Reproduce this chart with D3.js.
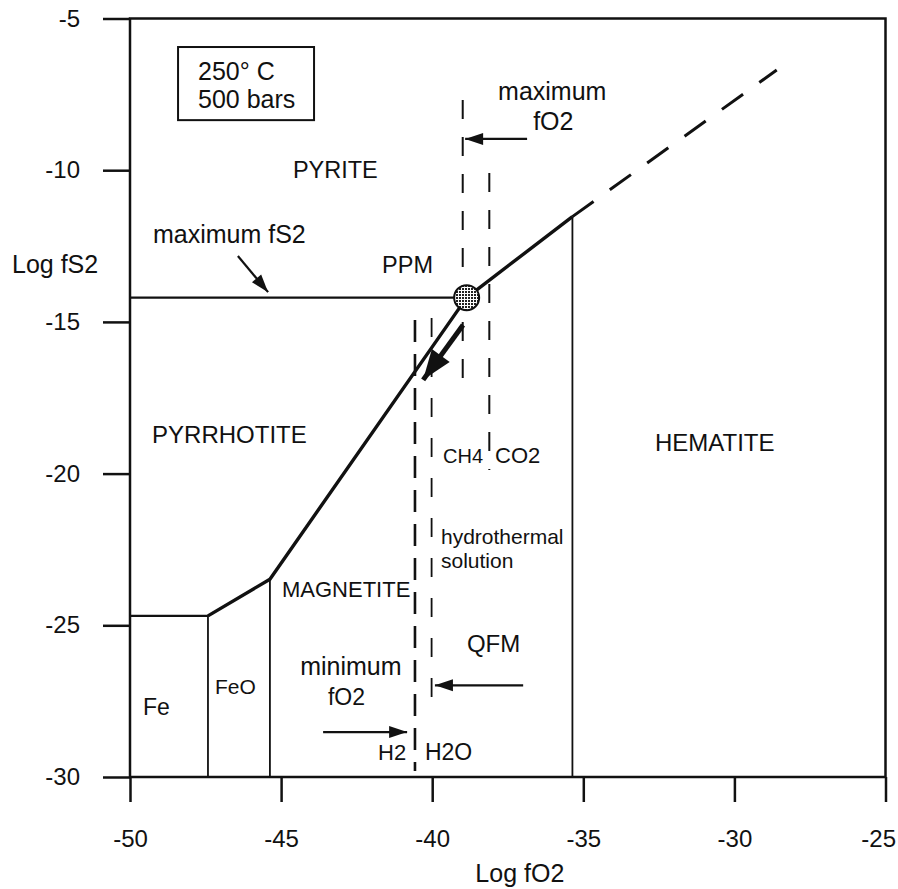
<!DOCTYPE html>
<html>
<head>
<meta charset="utf-8">
<script src="https://cdn.jsdelivr.net/npm/d3@7"></script>
<style>
  body { margin: 0; background: #fff; }
  svg text { font-family: "Liberation Sans", Arial, Helvetica, sans-serif; fill: #111; }
</style>
</head>
<body>
<div id="chart"></div>
<script>
// axis ticks
const xTicks = [-50, -45, -40, -35, -30, -25];
const yTicks = [-5, -10, -15, -20, -25, -30];

// stability field boundaries (log fO2, log fS2)
const feTop = [[-50, -24.69], [-47.42, -24.69]];
const mainBoundary = [[-47.42, -24.69], [-45.37, -23.48], [-38.86, -14.20], [-35.36, -11.53]];
const extrapolated = [[-35.36, -11.53], [-28.60, -6.70]];
const maxFS2 = [[-50, -14.20], [-38.86, -14.20]];
const ppm = [-38.86, -14.20];
const verticals = [
  { x: -47.42, y0: -30, y1: -24.69 },
  { x: -45.37, y0: -30, y1: -23.48 },
  { x: -35.36, y0: -30, y1: -11.53 }
];

// redox buffer lines (dashed)
const dashedLines = [
  { x: -40.57, y0: -14.94, y1: -29.8, dash: '22,12', w: 2.6 },   // H2 / H2O
  { x: -40.02, y0: -14.87, y1: -27.86, dash: '19,21', w: 1.8 },  // QFM
  { x: -38.99, y0: -7.69, y1: -17.18, dash: '19,18', w: 2 },     // CH4 / CO2
  { x: -38.11, y0: -10.09, y1: -19.88, dash: '19,18', w: 2 }
];

// annotation arrows [from, to]
const arrows = [
  [[-46.43, -12.83], [-45.43, -14.02]],
  [[-36.86, -8.97], [-38.91, -8.97]],
  [[-36.99, -26.98], [-39.91, -26.98]],
  [[-43.61, -28.52], [-40.83, -28.52]]
];
const pathArrow = [[-38.98, -15.10], [-40.30, -16.91]];

// text labels [text, x, y, size]
const labels = [
  ['250\u00b0 C', -47.75, -7.03, 25],
  ['500 bars', -47.75, -7.95, 25],
  ['PYRITE', -44.61, -10.26, 23.5],
  ['PPM', -41.66, -13.39, 23.5],
  ['maximum fS2', -49.24, -12.40, 25],
  ['PYRRHOTITE', -49.27, -18.99, 24],
  ['HEMATITE', -32.63, -19.25, 24],
  ['MAGNETITE', -44.97, -24.06, 22],
  ['Fe', -49.57, -27.95, 23],
  ['FeO', -47.19, -27.26, 21],
  ['minimum', -44.37, -26.64, 25],
  ['fO2', -43.45, -27.63, 23],
  ['H2', -41.79, -29.45, 22],
  ['H2O', -40.24, -29.45, 23],
  ['QFM', -38.85, -25.89, 24],
  ['hydrothermal', -39.71, -22.32, 21],
  ['solution', -39.71, -23.11, 21],
  ['CH4', -39.64, -19.65, 20],
  ['CO2', -37.92, -19.65, 22],
  ['maximum', -37.82, -7.69, 25],
  ['fO2', -36.66, -8.68, 25]
];
const conditionBox = [[-48.41, -5.94], [-43.91, -8.35]];

const width = 898;
const height = 889;
const x = d3.scaleLinear().domain([-50, -25]).range([130, 885.5]);
const y = d3.scaleLinear().domain([-5, -30]).range([18.5, 777]);

const svg = d3.select('#chart')
  .append('svg')
  .attr('width', width)
  .attr('height', height);

const defs = svg.append('defs');
const pat = defs.append('pattern')
  .attr('id', 'dots')
  .attr('width', 3)
  .attr('height', 3)
  .attr('patternUnits', 'userSpaceOnUse');
pat.append('rect').attr('width', 3).attr('height', 3).attr('fill', '#fff');
pat.append('rect').attr('width', 2).attr('height', 2).attr('fill', '#222');

const line = d3.line().x(d => x(d[0])).y(d => y(d[1]));

// axes (plain hyphen minus, like the original)
svg.append('g')
  .attr('transform', 'translate(0,' + y(-30) + ')')
  .call(d3.axisBottom(x).tickValues(xTicks).tickSize(25).tickSizeOuter(0).tickPadding(28)
    .tickFormat(d => String(d)))
  .call(g => g.select('.domain').remove())
  .call(g => g.selectAll('line').attr('stroke', '#111').attr('stroke-width', 2.5))
  .call(g => g.selectAll('text').style('font-size', '24px').attr('fill', '#111'))
  .call(g => g.selectAll('text').filter(d => d === -25).attr('text-anchor', 'end').attr('x', 10));

svg.append('g')
  .attr('transform', 'translate(' + x(-50) + ',0)')
  .call(d3.axisLeft(y).tickValues(yTicks).tickSize(27).tickSizeOuter(0).tickPadding(23)
    .tickFormat(d => String(d)))
  .call(g => g.select('.domain').remove())
  .call(g => g.selectAll('line').attr('stroke', '#111').attr('stroke-width', 2.5))
  .call(g => g.selectAll('text').style('font-size', '24px').attr('fill', '#111'));

// frame
svg.append('rect')
  .attr('x', x(-50))
  .attr('y', y(-5))
  .attr('width', x(-25) - x(-50))
  .attr('height', y(-30) - y(-5))
  .attr('fill', 'none')
  .attr('stroke', '#111')
  .attr('stroke-width', 2.5);

svg.append('text')
  .attr('x', 12)
  .attr('y', 273)
  .style('font-size', '25px')
  .text('Log fS2');

svg.append('text')
  .attr('x', x(-37.1))
  .attr('y', 882)
  .attr('text-anchor', 'middle')
  .style('font-size', '25px')
  .text('Log fO2');

// condition box
svg.append('rect')
  .attr('x', x(conditionBox[0][0]))
  .attr('y', y(conditionBox[0][1]))
  .attr('width', x(conditionBox[1][0]) - x(conditionBox[0][0]))
  .attr('height', y(conditionBox[1][1]) - y(conditionBox[0][1]))
  .attr('fill', 'none')
  .attr('stroke', '#111')
  .attr('stroke-width', 2);

// phase boundaries
svg.selectAll('.vert')
  .data(verticals)
  .enter()
  .append('line')
  .attr('class', 'vert')
  .attr('x1', d => x(d.x))
  .attr('x2', d => x(d.x))
  .attr('y1', d => y(d.y0))
  .attr('y2', d => y(d.y1))
  .attr('stroke', '#111')
  .attr('stroke-width', 1.8);

svg.append('path')
  .attr('d', line(feTop))
  .attr('fill', 'none')
  .attr('stroke', '#111')
  .attr('stroke-width', 2.4);

svg.append('path')
  .attr('d', line(maxFS2))
  .attr('fill', 'none')
  .attr('stroke', '#111')
  .attr('stroke-width', 2.4);

svg.selectAll('.dash')
  .data(dashedLines)
  .enter()
  .append('line')
  .attr('class', 'dash')
  .attr('x1', d => x(d.x))
  .attr('x2', d => x(d.x))
  .attr('y1', d => y(d.y0))
  .attr('y2', d => y(d.y1))
  .attr('stroke', '#111')
  .attr('stroke-width', d => d.w)
  .attr('stroke-dasharray', d => d.dash);

svg.append('path')
  .attr('d', line(mainBoundary))
  .attr('fill', 'none')
  .attr('stroke', '#111')
  .attr('stroke-width', 3.4)
  .attr('stroke-linejoin', 'round');

svg.append('path')
  .attr('d', line(extrapolated))
  .attr('fill', 'none')
  .attr('stroke', '#111')
  .attr('stroke-width', 3)
  .attr('stroke-dasharray', '26,20');

// PPM point
svg.append('circle')
  .attr('cx', x(ppm[0]))
  .attr('cy', y(ppm[1]))
  .attr('r', 12.5)
  .attr('fill', 'url(#dots)')
  .attr('stroke', '#111')
  .attr('stroke-width', 2);

// thin arrows with filled heads
function arrowHead(from, to, len, half) {
  const x0 = x(from[0]), y0 = y(from[1]), x1 = x(to[0]), y1 = y(to[1]);
  const a = Math.atan2(y1 - y0, x1 - x0);
  const bx = x1 - len * Math.cos(a), by = y1 - len * Math.sin(a);
  const px = -Math.sin(a) * half, py = Math.cos(a) * half;
  return 'M' + x1 + ',' + y1 + 'L' + (bx + px) + ',' + (by + py) + 'L' + (bx - px) + ',' + (by - py) + 'Z';
}

svg.selectAll('.arrow')
  .data(arrows)
  .enter()
  .append('path')
  .attr('class', 'arrow')
  .attr('d', d => line(d))
  .attr('stroke', '#111')
  .attr('stroke-width', 2.2);

svg.selectAll('.head')
  .data(arrows)
  .enter()
  .append('path')
  .attr('class', 'head')
  .attr('d', d => arrowHead(d[0], d[1], 18, 6))
  .attr('fill', '#111');

svg.append('path')
  .attr('d', line(pathArrow))
  .attr('stroke', '#111')
  .attr('stroke-width', 5);
svg.append('path')
  .attr('d', arrowHead(pathArrow[0], pathArrow[1], 30, 11))
  .attr('fill', '#111');

// labels
svg.selectAll('.lbl')
  .data(labels)
  .enter()
  .append('text')
  .attr('class', 'lbl')
  .attr('x', d => x(d[1]))
  .attr('y', d => y(d[2]))
  .style('font-size', d => d[3] + 'px')
  .text(d => d[0]);
</script>
</body>
</html>
